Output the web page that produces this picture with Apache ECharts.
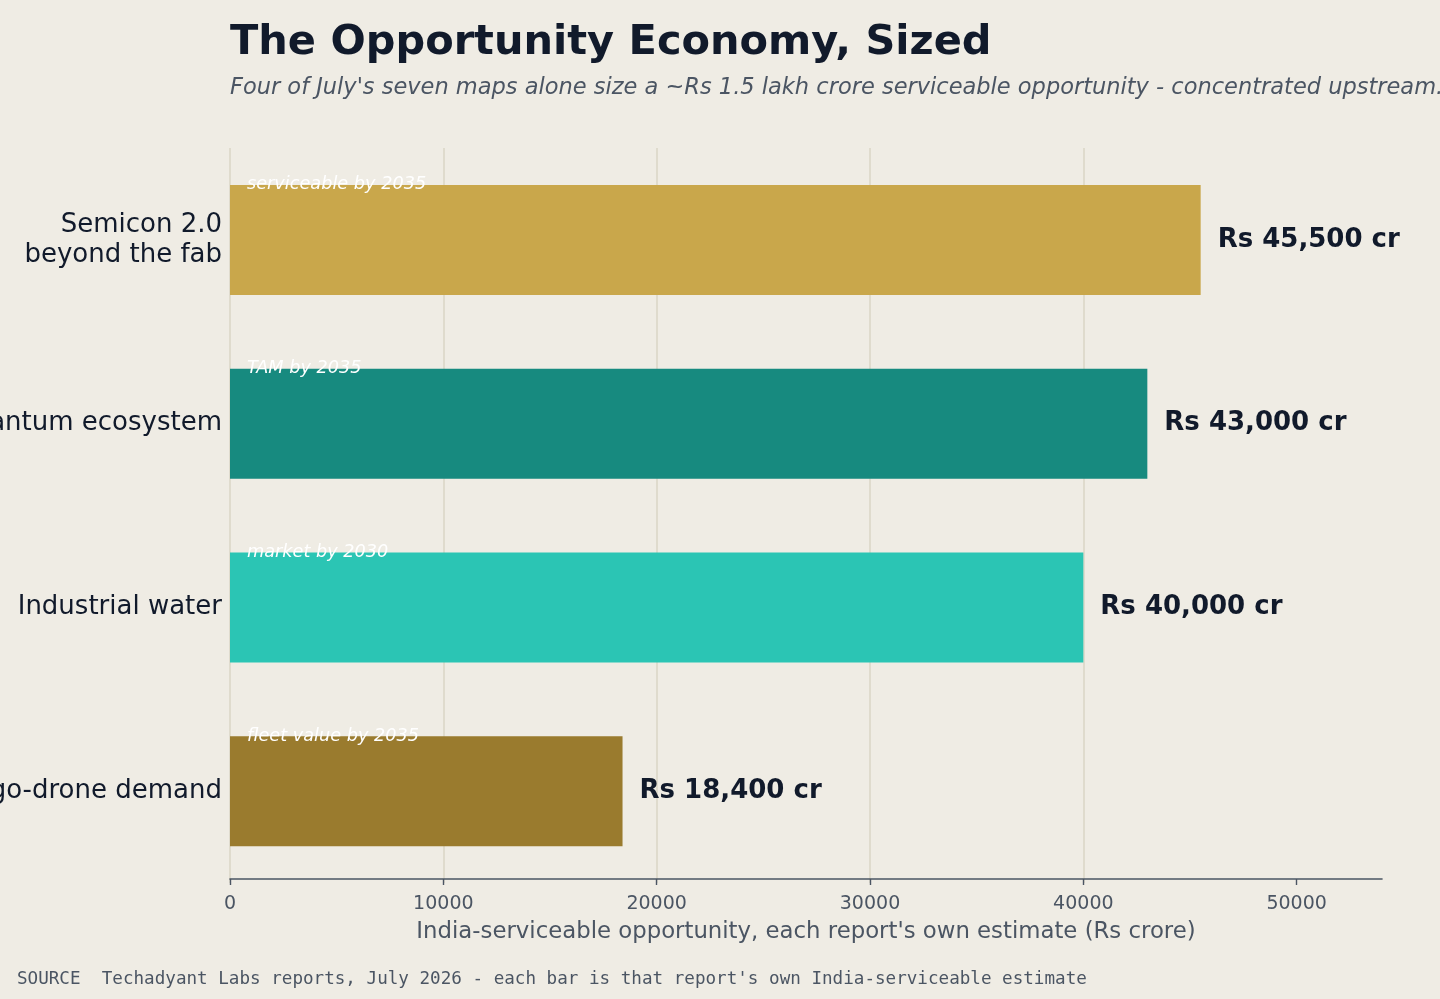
<!DOCTYPE html>
<html>
<head>
<meta charset="utf-8">
<title>The Opportunity Economy, Sized</title>
<script src="https://cdn.jsdelivr.net/npm/echarts@6/dist/echarts.min.js"></script>
<style>
  html, body { margin: 0; padding: 0; background: #efece4; }
  #chart { width: 1440px; height: 999px; }
</style>
</head>
<body>
<div id="chart"></div>
<script>
// data, top to bottom
var categories = ['Semicon 2.0\nbeyond the fab', 'Quantum ecosystem', 'Industrial water', 'Cargo-drone demand'];
var values = [45500, 43000, 40000, 18400];
var notes = ['serviceable by 2035', 'TAM by 2035', 'market by 2030', 'fleet value by 2035'];
var colors = ['#c9a74b', '#178a7f', '#2bc5b4', '#9a7b2e'];
var xTicks = [0, 10000, 20000, 30000, 40000, 50000];

var ink = '#111a2b';
var grey = '#4b5563';

var myChart = echarts.init(document.getElementById('chart'));

var option = {
  backgroundColor: '#efece4',
  animation: false,
  textStyle: { fontFamily: 'DejaVu Sans' },
  title: [
    {
      text: 'The Opportunity Economy, Sized',
      left: 230, top: 22, padding: 0,
      textStyle: { fontSize: 41.5, fontWeight: 'bold', color: ink, fontFamily: 'DejaVu Sans' }
    },
    {
      text: "Four of July's seven maps alone size a ~Rs 1.5 lakh crore serviceable opportunity - concentrated upstream.",
      left: 230, top: 77, padding: 0,
      textStyle: { fontSize: 22.5, fontStyle: 'italic', fontWeight: 'normal', color: grey, fontFamily: 'DejaVu Sans' }
    },
    {
      text: "SOURCE  Techadyant Labs reports, July 2026 - each bar is that report's own India-serviceable estimate",
      left: 17, top: 970, padding: 0,
      textStyle: { fontSize: 17.6, fontWeight: 'normal', color: grey, fontFamily: 'DejaVu Sans Mono' }
    }
  ],
  grid: { left: 230, right: 58, top: 148, height: 735, outerBoundsMode: 'none', containLabel: false },
  xAxis: {
    type: 'value',
    min: 0,
    max: 54000,
    interval: 10000,
    offset: -4,
    name: "India-serviceable opportunity, each report's own estimate (Rs crore)",
    nameLocation: 'middle',
    nameGap: 42,
    nameTextStyle: { fontSize: 22.8, color: grey },
    axisLine: { show: true, lineStyle: { color: grey, width: 1.6 } },
    axisTick: { show: true, length: 6, customValues: xTicks, lineStyle: { color: grey, width: 1.4 } },
    axisLabel: {
      fontSize: 19, color: grey, margin: 16, customValues: xTicks,
      formatter: function (v) { return String(v); }
    },
    splitLine: { show: true, showMaxLine: false, lineStyle: { color: '#dad6c6', width: 1.5 } }
  },
  yAxis: {
    type: 'category',
    data: categories,
    inverse: true,
    axisLine: { show: false },
    axisTick: { show: false },
    axisLabel: { fontSize: 26, color: ink, margin: 8, align: 'right', lineHeight: 30 }
  },
  series: [
    {
      type: 'bar',
      barWidth: 110,
      data: values.map(function (v, i) {
        return { value: v, itemStyle: { color: colors[i] } };
      }),
      label: {
        show: true,
        position: 'right',
        distance: 17,
        fontSize: 26,
        fontWeight: 'bold',
        color: ink,
        formatter: function (p) { return 'Rs ' + p.value.toLocaleString('en-US') + ' cr'; }
      },
      z: 2
    },
    {
      // transparent copy that only carries the small italic notes
      type: 'bar',
      barWidth: 110,
      barGap: '-100%',
      silent: true,
      data: values,
      itemStyle: { color: 'rgba(0,0,0,0)' },
      label: {
        show: true,
        position: [17, 0],
        align: 'left',
        verticalAlign: 'middle',
        fontSize: 17.7,
        fontStyle: 'italic',
        color: '#ffffff',
        formatter: function (p) { return notes[p.dataIndex]; }
      },
      z: 3
    }
  ]
};

myChart.setOption(option);
</script>
</body>
</html>
